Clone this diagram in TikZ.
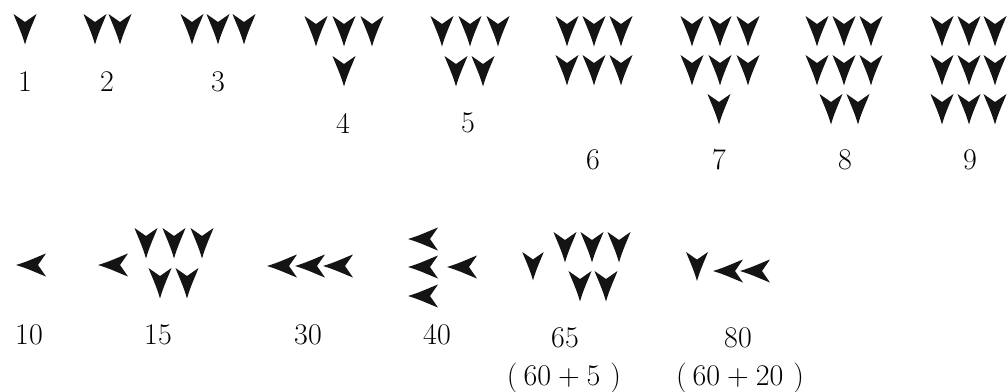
\documentclass[tikz,border=0pt]{standalone}
\usepackage{fontspec}
\begin{document}
\begin{tikzpicture}[x=1pt,y=-1pt,
  vw/.pic={\fill[wedgecol] (-11.5,0) -- (0,8) -- (11.5,0) .. controls (8.5,8) and (3.5,18) .. (0,30.5) .. controls (-3.5,18) and (-8.5,8) .. (-11.5,0) -- cycle;},
  hw/.pic={\fill[wedgecol] (0,0) .. controls (12,-3.5) and (22,-8.5) .. (30,-11.5) -- (22,0) -- (30,11.5) .. controls (22,8.5) and (12,3.5) .. (0,0) -- cycle;},
  num/.style={font=\fontsize{30}{34}\selectfont, inner sep=0pt, anchor=center}]
\colorlet{wedgecol}{black!92}
\useasboundingbox (0,0) rectangle (1008,391);
% 1
\pic at (25,14) {vw};
\node[num] (n1) at (25,82) {1};
% 2
\pic at (95,14) {vw}; \pic at (120,14) {vw};
\node[num] (n2) at (107,82) {2};
% 3
\pic at (192,14) {vw}; \pic at (218,14) {vw}; \pic at (244,14) {vw};
\node[num] (n3) at (218,82) {3};
% 4
\foreach \x in {316,344,372} {\pic at (\x,16) {vw};}
\pic at (344,56) {vw};
\node[num] (n4) at (343,123) {4};
% 5
\foreach \x in {442,470,498} {\pic at (\x,16) {vw};}
\foreach \x in {456,483} {\pic at (\x,56) {vw};}
\node[num] (n5) at (468,123) {5};
% 6
\foreach \x in {567,594,621} {\pic at (\x,16) {vw}; \pic at (\x,55) {vw};}
\node[num] (n6) at (593,160) {6};
% 7
\foreach \x in {692,720,748} {\pic at (\x,16) {vw}; \pic at (\x,55) {vw};}
\pic at (719,94) {vw};
\node[num] (n7) at (719,160) {7};
% 8
\foreach \x in {817,844,871} {\pic at (\x,16) {vw}; \pic at (\x,55) {vw};}
\foreach \x in {831,858} {\pic at (\x,94) {vw};}
\node[num] (n8) at (845,160) {8};
% 9
\foreach \x in {942,969,995} {\pic at (\x,16) {vw}; \pic at (\x,55) {vw}; \pic at (\x,94) {vw};}
\node[num] (n9) at (970,160) {9};
% 10
\pic at (16,265) {hw};
\node[num] (n10) at (29,335) {10};
% 15
\pic at (98,265) {hw};
\foreach \x in {146,174,202} {\pic at (\x,228) {vw};}
\foreach \x in {160,187} {\pic at (\x,268) {vw};}
\node[num] (n15) at (158,335) {15};
% 30
\foreach \x in {267,295,323} {\pic at (\x,266) {hw};}
\node[num] (n30) at (308,335) {30};
% 40
\pic at (408,239) {hw}; \pic at (408,267) {hw}; \pic at (447,267) {hw}; \pic at (408,296) {hw};
\node[num] (n40) at (437,335) {40};
% 65
\pic[scale=0.93] at (533,252) {vw};
\foreach \x in {565,592,619} {\pic at (\x,232) {vw};}
\foreach \x in {580,606} {\pic at (\x,271) {vw};}
\node[num] (n65) at (565,338) {65};
\node[num] (n65b) at (564,378) {(\kern6pt60\kern7pt+\kern7pt5\kern10pt)};
% 80
\pic[scale=0.95] at (697,252) {vw};
\pic at (713,271) {hw}; \pic at (740,271) {hw};
\node[num] (n80) at (738,338) {80};
\node[num] (n80b) at (740,378) {(\kern6pt60\kern7pt+\kern7pt20\kern10pt)};
\end{tikzpicture}
\end{document}
